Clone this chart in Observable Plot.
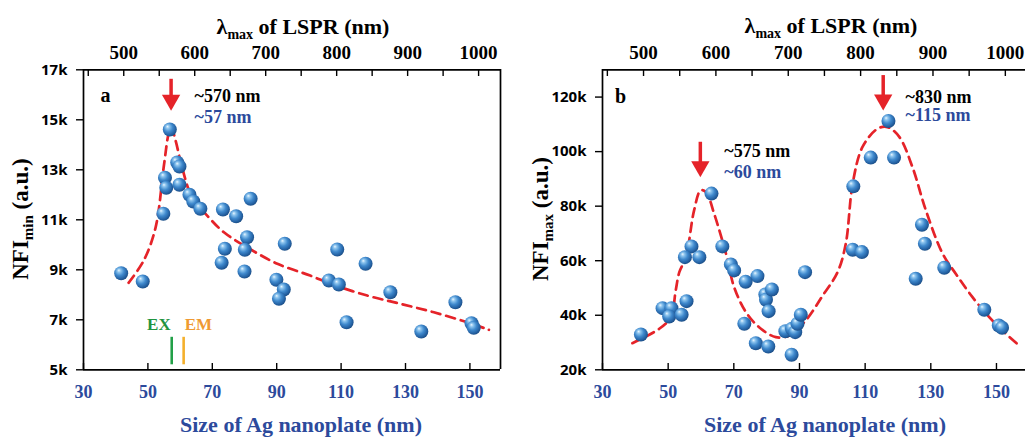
<!DOCTYPE html>
<html><head><meta charset="utf-8">
<script src="https://cdn.jsdelivr.net/npm/d3@7"></script>
<script src="https://cdn.jsdelivr.net/npm/@observablehq/plot@0.6"></script>
<style>
body{margin:0;background:#fff;}
#wrap{position:relative;width:1025px;height:439px;overflow:hidden;background:#fff;}
#pa{position:absolute;left:0;top:0;}
#pb{position:absolute;left:512px;top:0;}
</style></head><body>
<svg width="0" height="0" style="position:absolute"><defs>
<radialGradient id="ball" cx="0.42" cy="0.4" r="0.62" fx="0.33" fy="0.28">
 <stop offset="0" stop-color="#eaf6ff"/>
 <stop offset="0.2" stop-color="#8ec5ee"/>
 <stop offset="0.52" stop-color="#3f89cd"/>
 <stop offset="0.85" stop-color="#235fa0"/>
 <stop offset="1" stop-color="#1b4c82"/>
</radialGradient></defs></svg>
<div id="wrap"><div id="pa"></div><div id="pb"></div></div>
<script>
// ---------- data ----------
const xTicks = [30, 50, 70, 90, 110, 130, 150];
const lambdaTicks = [450, 500, 550, 600, 650, 700, 750, 800, 850, 900, 950, 1000];
const lambdaLabels = [500, 600, 700, 800, 900, 1000];
// calibration of the top axis: 500 nm <-> 42.5 nm plate, 1000 nm <-> 152.7 nm plate
const lambdaRef = [500, 1000];
const sizeRef = [42.5, 152.7];
const yTicksA = [5000, 7000, 9000, 11000, 13000, 15000, 17000];
const yTicksB = [20000, 40000, 60000, 80000, 100000, 120000];

// panel a: NFI_min
const sizeA = [41.7,48.4,54.8,55.3,55.7,56.8,59.1,59.8,59.8,62.9,64.1,66.3,73.3,77.4,81.9,80.8,80.1,73.9,72.9,80.0,92.5,108.8,117.6,89.9,92.2,90.7,106.2,109.3,111.7,125.3,134.9,145.5,150.5,151.2];
const nfiMin = [8860,8530,11240,12680,12280,14610,13290,13130,12400,12000,11730,11440,11410,11140,11840,10300,9800,9840,9280,8930,10040,9810,9240,8600,8210,7840,8570,8410,6900,8100,6530,7700,6860,6680];
const fitSizeA = [44,48.7,52.4,54.9,56.5,57.2,58.6,60.6,63.7,68.4,73.6,80.8,90.2,100.4,106.7,118.1,128.4,138.8,149.2,155.9];
const fitMin = [8480,9370,10700,13100,14500,14730,14170,13100,11900,11170,10500,9900,9240,8770,8440,7970,7640,7300,6900,6600];

// panel b: NFI_max
const sizeB = [63.2,57.1,55.1,59.5,66.5,69.1,70.1,77.2,73.6,91.7,106.4,106.2,109.0,111.7,117.1,118.8,127.3,128.2,134.1,125.4,41.7,48.3,51.0,50.3,54.1,55.6,73.2,76.7,80.5,87.6,79.6,79.8,81.6,80.6,85.7,87.7,88.7,89.4,90.4,146.3,150.7,151.7];
const nfiMax = [84600,65250,61300,61300,65250,58640,56440,54350,52300,55800,87270,64040,63160,97800,111230,97800,73200,66240,57430,53390,32950,42600,42600,39560,40180,45170,36880,29760,28550,25500,47630,45690,49470,41500,34160,35050,33800,36880,40180,42020,36260,35410];
const fitSizeB = [39.1,47.3,50.8,52.3,53.4,55.4,57.9,59.9,61.5,64.0,67.6,70.1,73.7,77.7,82.8,86.9,91.9,97.1,101.6,104.1,106.2,109.2,113.8,116.8,120.4,124.4,128.5,133.6,137.6,142.7,147.8,151.8,156.9];
const fitMax = [29760,35050,39300,49100,55800,61300,78450,85800,85200,77250,62570,50300,41140,35630,31960,32590,38090,47270,55800,66240,88260,101700,108400,109000,105400,94350,78450,62570,55230,46640,39300,34420,28920];

// peaks: arrow x (plate size), arrow top / tip values, annotation texts
const peakSizeA = [57.2], peakTopA = [16300], peakTipA = [15370];
const peakLambdaTextA = ["~570 nm"], peakSizeTextA = ["~57 nm"];
const peakSizeB = [59.8, 115.5], peakTopB = [100500, 124950], peakTipB = [90700, 115150];
const peakLambdaTextB = ["~575 nm", "~830 nm"], peakSizeTextB = ["~60 nm", "~115 nm"];

// excitation / emission markers (as plate-size equivalents)
const markerNames = ["EX", "EM"];
const markerSize = [57.4, 61.1];

// ---------- helpers ----------
const red = "#e52329", blue = "#2c4a9c", green = "#1f9440", orange = "#f4b02c";
const serif = "'Liberation Serif','Times New Roman',serif";
const sans = "'Open Sans','Liberation Sans',Arial,sans-serif";
const toSize = l => sizeRef[0] + (l - lambdaRef[0]) * (sizeRef[1] - sizeRef[0]) / (lambdaRef[1] - lambdaRef[0]);
const toLambda = s => lambdaRef[0] + (s - sizeRef[0]) * (lambdaRef[1] - lambdaRef[0]) / (sizeRef[1] - sizeRef[0]);
const zip = (xs, ys) => xs.map((x, i) => ({x, y: ys[i]}));

function commonAxes(yTicks) {
  return [
    Plot.axisX(xTicks, {anchor: "bottom", tickSize: -6, tickFormat: () => "", strokeWidth: 1.4, label: null}),
    Plot.axisX(xTicks, {anchor: "bottom", tickSize: 0, tickPadding: 16, fontFamily: serif, fontWeight: "bold", fontSize: 18, fill: blue, label: null}),
    Plot.axisX(lambdaTicks.map(toSize), {anchor: "top", tickSize: -6, tickFormat: () => "", strokeWidth: 1.4, label: null}),
    Plot.axisX(lambdaLabels.map(toSize), {anchor: "top", tickSize: 0, tickPadding: 11, tickFormat: s => String(Math.round(toLambda(s))), fontFamily: serif, fontWeight: "bold", fontSize: 19, fill: "black", label: null}),
    Plot.axisY(yTicks, {anchor: "left", tickSize: 7, tickPadding: 9, tickFormat: d => d / 1000 + "k", fontFamily: sans, fontWeight: 700, fontSize: 15, strokeWidth: 1.4, label: null})
  ];
}
function peakMarks(xs, tops, tips, lt, st, textX, lY, sY) {
  const d = xs.map((x, i) => ({x, top: tops[i], tip: tips[i], lt: lt[i], st: st[i], tx: textX[i], ly: lY[i], sy: sY[i]}));
  return [
    Plot.ruleX(d, {x: "x", y1: "top", y2: "tip", dy: -8, stroke: red, strokeWidth: 3.5}),
    Plot.dot(d, {x: "x", y: "tip", symbol: "triangle", r: 6.8, rotate: 180, fill: red, dy: -10.4}),
    Plot.text(d, {x: "tx", y: "ly", text: "lt", textAnchor: "start", fill: "black", fontFamily: serif, fontWeight: "bold", fontSize: 18}),
    Plot.text(d, {x: "tx", y: "sy", text: "st", textAnchor: "start", fill: blue, fontFamily: serif, fontWeight: "bold", fontSize: 18})
  ];
}

// ---------- panel a ----------
const chartA = Plot.plot({
  width: 512, height: 439,
  marginTop: 69, marginBottom: 70, marginLeft: 83, marginRight: 12,
  x: {domain: [30, 159.5], range: [83, 500]},
  y: {domain: [5000, 17000], range: [369.3, 69.3]},
  style: {background: "transparent", overflow: "visible"},
  marks: [
    ...commonAxes(yTicksA),
    Plot.ruleY([5000, 17000], {stroke: "black", strokeWidth: 1.7}),
    Plot.ruleX([30, 159.5], {stroke: "black", strokeWidth: 1.7}),
    Plot.ruleX([markerSize[0]], {y1: 5200, y2: 6300, stroke: "#22a047", strokeWidth: 2.6}),
    Plot.ruleX([markerSize[1]], {y1: 5200, y2: 6300, stroke: orange, strokeWidth: 2.6}),
    Plot.text([markerNames[0]], {x: markerSize[0], y: 6800, text: d => d, textAnchor: "end", dx: -1, fill: green, fontFamily: serif, fontWeight: "bold", fontSize: 17}),
    Plot.text([markerNames[1]], {x: markerSize[1], y: 6800, text: d => d, textAnchor: "start", dx: 1, fill: "#ef9a32", fontFamily: serif, fontWeight: "bold", fontSize: 17}),
    Plot.line(zip(fitSizeA, fitMin), {x: "x", y: "y", curve: "catmull-rom", stroke: red, strokeWidth: 2.7, strokeDasharray: "9 6"}),
    Plot.dot(zip(sizeA, nfiMin), {x: "x", y: "y", r: 7, fill: "url(#ball)"}),
    ...peakMarks(peakSizeA, peakTopA, peakTipA, peakLambdaTextA, peakSizeTextA, [64.5], [15950], [15090]),
    Plot.text(["a"], {x: 36.8, y: 15970, text: d => d, fontFamily: serif, fontWeight: "bold", fontSize: 20, fill: "black"})
  ]
});

// ---------- panel b ----------
const chartB = Plot.plot({
  width: 513, height: 439,
  marginTop: 69, marginBottom: 70, marginLeft: 90, marginRight: 0,
  x: {domain: [30, 160], range: [90, 516.8]},
  y: {domain: [20000, 130000], range: [369.3, 69.3]},
  style: {background: "transparent", overflow: "visible"},
  marks: [
    ...commonAxes(yTicksB),
    Plot.ruleY([20000, 130000], {stroke: "black", strokeWidth: 1.7}),
    Plot.ruleX([30], {stroke: "black", strokeWidth: 1.7}),
    Plot.line(zip(fitSizeB, fitMax), {x: "x", y: "y", curve: "catmull-rom", stroke: red, strokeWidth: 2.7, strokeDasharray: "9 6"}),
    Plot.dot(zip(sizeB, nfiMax), {x: "x", y: "y", r: 7, fill: "url(#ball)"}),
    ...peakMarks(peakSizeB, peakTopB, peakTipB, peakLambdaTextB, peakSizeTextB, [67.1, 122.3], [100100, 119950], [92500, 113300]),
    Plot.text(["b"], {x: 35.5, y: 120000, text: d => d, fontFamily: serif, fontWeight: "bold", fontSize: 20, fill: "black"})
  ]
});

document.getElementById("pa").appendChild(chartA);
document.getElementById("pb").appendChild(chartB);

function titles(svg, o) {
  const s = d3.select(svg);
  const t = s.append("text").attr("x", o.topX).attr("y", o.topY).attr("text-anchor", "middle")
    .attr("font-family", serif).attr("font-weight", "bold").attr("font-size", 22).attr("fill", "black");
  t.append("tspan").text("λ");
  t.append("tspan").text("max").attr("font-size", 14).attr("dy", 5);
  t.append("tspan").text(" of LSPR (nm)").attr("dy", -5);
  s.append("text").attr("x", o.botX).attr("y", o.botY).attr("text-anchor", "middle")
    .attr("font-family", serif).attr("font-weight", "bold").attr("font-size", 22).attr("fill", blue)
    .text("Size of Ag nanoplate (nm)");
  const y = s.append("text").attr("transform", `translate(${o.yX},${o.yY}) rotate(-90)`).attr("text-anchor", "middle")
    .attr("font-family", serif).attr("font-weight", "bold").attr("font-size", 23).attr("fill", "black");
  y.append("tspan").text("NFI");
  y.append("tspan").text(o.sub).attr("font-size", 15).attr("dy", 5);
  y.append("tspan").text(" (a.u.)").attr("dy", -5);
}
titles(chartA, {topX: 303, topY: 34, botX: 301, botY: 432, yX: 28, yY: 219, sub: "min"});
titles(chartB, {topX: 319, topY: 33, botX: 313, botY: 432, yX: 36, yY: 219, sub: "max"});
</script>
</body></html>
